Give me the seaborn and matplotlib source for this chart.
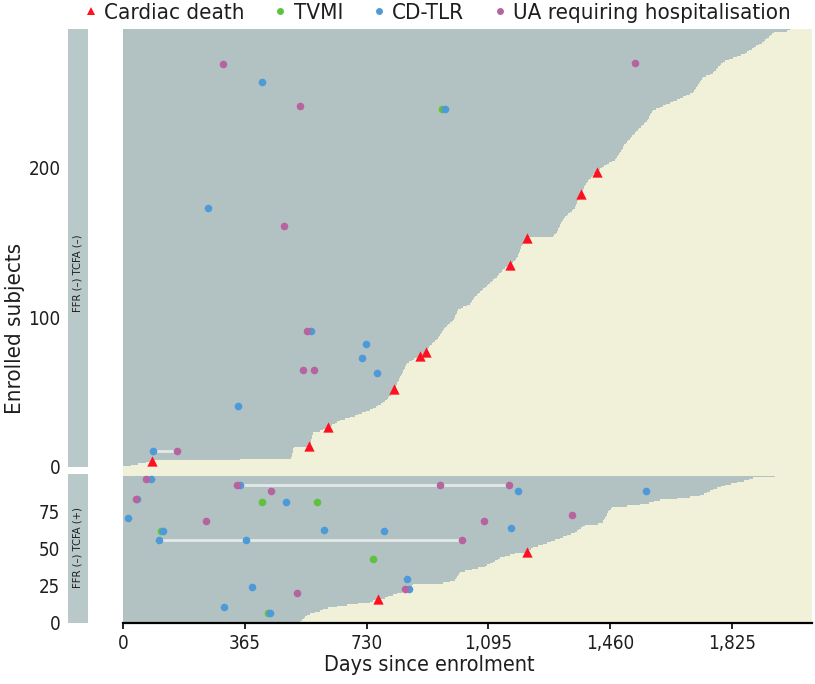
import matplotlib
matplotlib.use('Agg')
import matplotlib.pyplot as plt
import seaborn as sns
import pandas as pd
from matplotlib.lines import Line2D
from matplotlib.patches import Rectangle
from matplotlib import font_manager as fm

sns.set_theme(style='white')

# pick a condensed sans face if one is installed, else Liberation Sans
_narrow = None
for f in fm.fontManager.ttflist:
    nm = f.name.lower()
    if ('narrow' in nm or 'condensed' in nm or str(f.stretch) in ('condensed', 'semi-condensed', '87.5', '75')) \
            and f.style == 'normal' and str(f.weight) in ('400', 'normal', 'regular') \
            and 'mono' not in nm and 'serif' not in nm and 'cjk' not in nm:
        _narrow = f
        break
if _narrow is not None:
    plt.rcParams['font.family'] = [_narrow.name, 'Liberation Sans', 'DejaVu Sans']
    plt.rcParams['font.stretch'] = _narrow.stretch
else:
    plt.rcParams['font.family'] = ['Liberation Sans', 'DejaVu Sans']

# ---------------- data ----------------
panel_labels = ['FFR (–) TCFA (–)', 'FFR (–) TCFA (+)']
event_types = ['Cardiac death', 'TVMI', 'CD-TLR', 'UA requiring hospitalisation']

# follow-up (days) of each enrolled subject, sorted, subject 1 at the bottom
followup_neg = [
    25, 45, 70, 87, 350,
    505, 506, 507, 508, 509, 510, 511, 512,
    557, 560, 562, 563, 564, 565, 566, 567, 568, 570,
    590, 600, 608, 614, 625, 635, 642, 650,
    665, 680, 695, 705, 715, 728, 740,
    750, 758, 765, 772, 778, 784, 790, 794,
    798, 802, 805, 808, 810, 812, 815,
    818, 820, 822, 824, 826, 828, 830,
    833, 835, 838, 840, 842, 844, 846, 848, 851,
    858, 865, 872, 880, 890, 899, 904, 908,
    911, 914, 917, 920, 925, 930, 936, 941,
    945, 948, 951, 954, 957, 960, 963, 965,
    970, 975, 980, 985, 989,
    992, 994, 996, 998, 1000, 1002, 1004,
    1012, 1020, 1030, 1040,
    1044, 1047, 1050, 1053, 1056, 1060, 1064,
    1070, 1075, 1080, 1086, 1091,
    1095, 1100, 1105, 1110, 1115, 1120, 1124,
    1128, 1132, 1136, 1140, 1145,
    1150, 1160, 1165, 1170, 1174, 1178, 1181,
    1183, 1185, 1187, 1189, 1190,
    1192, 1194, 1196, 1198, 1200, 1203, 1207, 1211,
    1288, 1293, 1297, 1301,
    1303, 1305, 1307, 1309, 1311, 1314, 1317, 1319,
    1322, 1325, 1330, 1335, 1340, 1345, 1350, 1354,
    1356, 1358, 1360, 1362, 1364, 1366, 1368, 1370,
    1372, 1375, 1377, 1379, 1381, 1383, 1385, 1387, 1390, 1393,
    1398, 1402, 1406, 1410, 1414, 1417, 1420,
    1430, 1436, 1442, 1450, 1458, 1466, 1474,
    1477, 1480, 1483, 1486, 1489, 1492, 1495, 1498,
    1500, 1503, 1507, 1511, 1515, 1519, 1523, 1527, 1531, 1535, 1539, 1543,
    1548, 1552, 1556, 1560, 1565, 1570,
    1573, 1575, 1577, 1580, 1582, 1585, 1588,
    1598, 1608, 1618, 1628, 1638, 1648, 1660,
    1668, 1678, 1688, 1698, 1708,
    1711, 1714, 1717, 1720, 1723, 1726, 1729, 1732, 1735, 1738,
    1748, 1758, 1768,
    1772, 1776, 1780, 1784, 1788, 1792, 1798, 1804,
    1815, 1828, 1840, 1852, 1864,
    1870, 1877, 1884, 1891, 1898, 1906, 1915,
    1920, 1925, 1930, 1935, 1940, 1945,
    1950, 1990, 2000,
]

followup_pos = [
    530, 536, 541, 545,
    552, 560, 575, 590, 600,
    615, 640, 670, 705, 740,
    750, 764, 785,
    795, 808, 820, 835, 850,
    860, 863, 866, 870,
    960, 980, 995,
    997, 1000, 1003, 1006, 1010,
    1025, 1045, 1065, 1085,
    1092, 1100, 1109,
    1116, 1123, 1130,
    1145, 1160, 1175,
    1211,
    1216, 1222, 1229,
    1244, 1259,
    1270, 1283, 1296, 1309,
    1320, 1332, 1343, 1354,
    1360, 1366, 1372, 1378, 1384,
    1425, 1438,
    1440, 1442, 1445, 1448, 1450, 1452, 1455, 1458, 1462, 1465,
    1510, 1549,
    1575, 1592, 1609,
    1660, 1700, 1729,
    1740, 1750, 1760, 1768,
    1780, 1792, 1804,
    1822, 1840,
    1860, 1875, 1888,
    1954,
]

# events: subject rank, day, type
ev_neg_subject = [269, 270, 257, 241, 239, 239, 197, 182, 173, 161, 153, 135,
                  91, 91, 82, 77, 74, 73, 65, 65, 63, 52, 41, 27, 14, 11, 11, 4]
ev_neg_day = [300, 1534, 417, 530, 956, 965, 1420, 1372, 255, 482, 1211, 1160,
              551, 563, 728, 908, 890, 716, 539, 572, 761, 812, 345, 614, 557, 90, 162, 87]
ev_neg_type = ['UA requiring hospitalisation', 'UA requiring hospitalisation', 'CD-TLR',
               'UA requiring hospitalisation', 'TVMI', 'CD-TLR', 'Cardiac death', 'Cardiac death',
               'CD-TLR', 'UA requiring hospitalisation', 'Cardiac death', 'Cardiac death',
               'UA requiring hospitalisation', 'CD-TLR', 'CD-TLR', 'Cardiac death', 'Cardiac death',
               'CD-TLR', 'UA requiring hospitalisation', 'UA requiring hospitalisation', 'CD-TLR',
               'Cardiac death', 'CD-TLR', 'Cardiac death', 'Cardiac death', 'CD-TLR',
               'UA requiring hospitalisation', 'Cardiac death']

ev_pos_subject = [97, 97, 93, 93, 93, 93, 89, 89, 89, 84, 84, 82, 82, 82, 71, 69, 69, 73,
                  62, 62, 62, 63, 64, 56, 56, 56, 43, 48, 30, 23, 23, 24, 20, 16, 11, 7, 7]
ev_pos_day = [69, 84, 342, 351, 950, 1157, 443, 1184, 1567, 39, 42, 417, 488, 581, 15, 249, 1082, 1345,
              114, 120, 782, 602, 1163, 108, 369, 1016, 749, 1211, 851, 845, 857, 387, 521, 764, 303, 435, 441]
ev_pos_type = ['UA requiring hospitalisation', 'CD-TLR',
               'UA requiring hospitalisation', 'CD-TLR', 'UA requiring hospitalisation', 'UA requiring hospitalisation',
               'UA requiring hospitalisation', 'CD-TLR', 'CD-TLR',
               'UA requiring hospitalisation', 'CD-TLR',
               'TVMI', 'CD-TLR', 'TVMI',
               'CD-TLR', 'UA requiring hospitalisation', 'UA requiring hospitalisation', 'UA requiring hospitalisation',
               'TVMI', 'CD-TLR', 'CD-TLR', 'CD-TLR', 'CD-TLR',
               'CD-TLR', 'CD-TLR', 'UA requiring hospitalisation',
               'TVMI', 'Cardiac death', 'CD-TLR', 'UA requiring hospitalisation', 'CD-TLR', 'CD-TLR',
               'UA requiring hospitalisation', 'Cardiac death', 'CD-TLR', 'TVMI', 'CD-TLR']

# light connectors between events of the same subject: subject, start day, end day
link_neg_subject = [11]
link_neg_start = [90]
link_neg_end = [162]
link_pos_subject = [93, 56]
link_pos_start = [351, 108]
link_pos_end = [1157, 1016]

x_ticks = [0, 365, 730, 1095, 1460, 1825]
x_tick_labels = ['0', '365', '730', '1,095', '1,460', '1,825']
y_ticks_neg = [0, 100, 200]
y_ticks_pos = [0, 25, 50, 75]

# ---------------- style ----------------
BAR = '#B2C1C2'
STRIP = '#B9C8C8'
BG = '#F0F1D8'
LINK = '#E3E9E9'
TXT = '#1E1E1E'
palette = {'Cardiac death': '#FF1020', 'TVMI': '#5FC23C',
           'CD-TLR': '#4C9BD8', 'UA requiring hospitalisation': '#B5649F'}
markers = {'Cardiac death': '^', 'TVMI': 'o', 'CD-TLR': 'o', 'UA requiring hospitalisation': 'o'}
sizes = {'Cardiac death': 55, 'TVMI': 30, 'CD-TLR': 30, 'UA requiring hospitalisation': 30}

W, H = 815, 684
fig = plt.figure(figsize=(W / 100, H / 100), dpi=100)
fig.patch.set_facecolor('white')

def frect(x0, y0, x1, y1):
    return [x0 / W, 1 - y1 / H, (x1 - x0) / W, (y1 - y0) / H]

ax_top = fig.add_axes(frect(123, 29, 812, 467))
ax_bot = fig.add_axes(frect(123, 474, 812, 623))
st_top = fig.add_axes(frect(68, 29, 88, 467))
st_bot = fig.add_axes(frect(68, 474, 88, 623))

fig.patches.append(Rectangle((123 / W, 1 - 474 / H), (812 - 123) / W, 7 / H,
                             transform=fig.transFigure, facecolor=BG, edgecolor='none', zorder=0))

panels = [
    (ax_top, st_top, followup_neg, ev_neg_subject, ev_neg_day, ev_neg_type,
     link_neg_subject, link_neg_start, link_neg_end, y_ticks_neg, 292.5, panel_labels[0], 0.443),
    (ax_bot, st_bot, followup_pos, ev_pos_subject, ev_pos_day, ev_pos_type,
     link_pos_subject, link_pos_start, link_pos_end, y_ticks_pos, 100.6, panel_labels[1], 0.507),
]

for ax, st, fu, es, ed, et, ls, l0, l1, yt, ytop, lab, ty in panels:
    ax.set_facecolor(BG)
    subj = list(range(1, len(fu) + 1))
    ax.barh(subj, fu, height=1.0, left=0, color=BAR, linewidth=0, zorder=1)
    for s, a, b in zip(ls, l0, l1):
        ax.plot([a, b], [s, s], color=LINK, lw=2.0, solid_capstyle='butt', zorder=2)
    df = pd.DataFrame({'subject': es, 'day': ed, 'type': et})
    for t in event_types:
        sub = df[df['type'] == t]
        if len(sub):
            sns.scatterplot(data=sub, x='day', y='subject', color=palette[t], marker=markers[t],
                            s=sizes[t], linewidth=0, ax=ax, legend=False, zorder=3)
    ax.set_xlim(0, 2065)
    ax.set_ylim(0, ytop)
    ax.set_yticks(yt)
    ax.set_yticklabels([str(v) for v in yt])
    ax.tick_params(axis='y', length=0, pad=45, labelsize=13.5, colors=TXT)
    ax.set_xlabel('')
    ax.set_ylabel('')
    for sp in ax.spines.values():
        sp.set_visible(False)
    st.set_facecolor(STRIP)
    st.set_xticks([])
    st.set_yticks([])
    for sp in st.spines.values():
        sp.set_visible(False)
    st.text(0.5, ty, lab, rotation=90, ha='center', va='center', fontsize=8,
            color=TXT, transform=st.transAxes)

ax_top.set_xticks([])
ax_bot.set_xticks(x_ticks)
ax_bot.set_xticklabels(x_tick_labels)
ax_bot.spines['bottom'].set_visible(True)
ax_bot.spines['bottom'].set_color('black')
ax_bot.spines['bottom'].set_linewidth(1.6)
ax_bot.tick_params(axis='x', bottom=True, length=4, width=1.2, color='black',
                   labelsize=13.5, pad=4, labelcolor=TXT)

fig.text(429 / W, 1 - 665 / H, 'Days since enrolment', ha='center', va='center',
         fontsize=15.5, color=TXT)
fig.text(15 / W, 1 - 328 / H, 'Enrolled subjects', ha='center', va='center',
         rotation=90, fontsize=16, color=TXT)

handles = [Line2D([0], [0], marker=markers[t], color='none', markerfacecolor=palette[t],
                  markeredgewidth=0, markersize=6 if t == 'Cardiac death' else 5)
           for t in event_types]
fig.legend(handles, event_types, loc='center', bbox_to_anchor=(438 / W, 1 - 13 / H), ncol=4,
           frameon=False, fontsize=16, handletextpad=0.35, columnspacing=1.35, handlelength=0.5,
           labelcolor=TXT, borderaxespad=0, borderpad=0)

fig.savefig('out.png', dpi=100, facecolor='white')
